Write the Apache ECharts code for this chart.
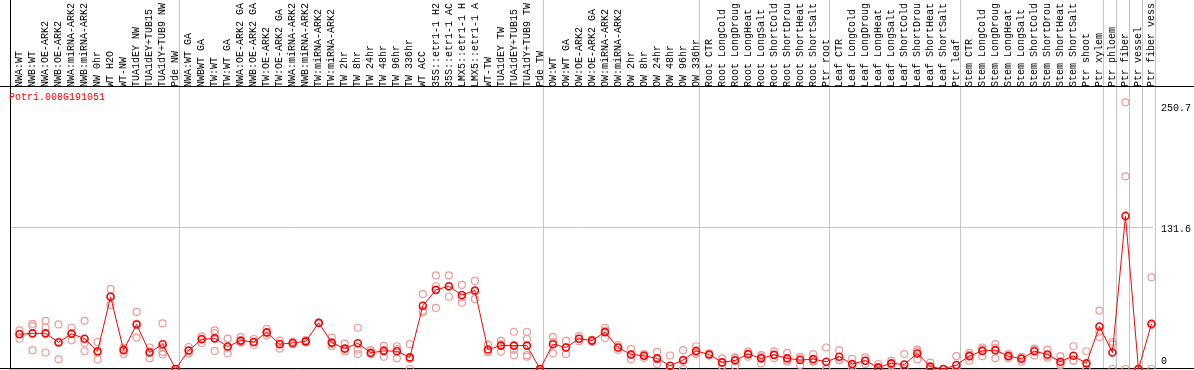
<!DOCTYPE html>
<html>
<head>
<meta charset="utf-8">
<script src="https://cdn.jsdelivr.net/npm/echarts@6/dist/echarts.min.js"></script>
<style>
html, body { margin: 0; padding: 0; background: #fff; }
#chart { width: 1194px; height: 370px; }
</style>
</head>
<body>
<div id="chart"></div>
<script>
// sample names (columns)
var samples = [
  'NWA:WT', 'NWB:WT', 'NWA:OE-ARK2', 'NWB:OE-ARK2', 'NWA:miRNA-ARK2', 'NWB:miRNA-ARK2', 'NW 0hr', 'WT H2O', 'WT-NW',
  'TUA1dEY NW', 'TUA1dEY+TUB15 NW', 'TUA1dY+TUB9 NW', 'Pde NW',
  'NWA:WT GA', 'NWBWT GA', 'TW:WT', 'TW:WT GA', 'NWA:OE-ARK2 GA', 'NWB:OE-ARK2 GA', 'TW:OE-ARK2', 'TW:OE-ARK2 GA',
  'NWA:miRNA-ARK2', 'NWB:miRNA-ARK2', 'TW:miRNA-ARK2', 'TW:miRNA-ARK2', 'TW 2hr', 'TW 8hr', 'TW 24hr', 'TW 48hr',
  'TW 96hr', 'TW 336hr', 'WT ACC', '35S::etr1-1 H2O', '35S::etr1-1 ACC', 'LMX5::etr1-1 H2O', 'LMX5::etr1-1 ACC',
  'WT-TW', 'TUA1dEY TW', 'TUA1dEY+TUB15 TW', 'TUA1dY+TUB9 TW', 'Pde TW',
  'OW:WT', 'OW:WT GA', 'OW:OE-ARK2', 'OW:OE-ARK2 GA', 'OW:miRNA-ARK2', 'OW:miRNA-ARK2', 'OW 2hr', 'OW 8hr',
  'OW 24hr', 'OW 48hr', 'OW 96hr', 'OW 336hr',
  'Root CTR', 'Root LongCold', 'Root LongDrought', 'Root LongHeat', 'Root LongSalt', 'Root ShortCold',
  'Root ShortDrought', 'Root ShortHeat', 'Root ShortSalt', 'Ptr root',
  'Leaf CTR', 'Leaf LongCold', 'Leaf LongDrought', 'Leaf LongHeat', 'Leaf LongSalt', 'Leaf ShortCold',
  'Leaf ShortDrought', 'Leaf ShortHeat', 'Leaf ShortSalt', 'Ptr leaf',
  'Stem CTR', 'Stem LongCold', 'Stem LongDrought', 'Stem LongHeat', 'Stem LongSalt', 'Stem ShortCold',
  'Stem ShortDrought', 'Stem ShortHeat', 'Stem ShortSalt', 'Ptr shoot', 'Ptr xylem',
  'Ptr phloem', 'Ptr fiber', 'Ptr vessel', 'Ptr fiber vessel'
];
// where a new group of samples starts
var groupStarts = [13, 41, 53, 63, 73, 84, 85, 86, 87, 88];

// mean expression
var means = [
  32.6, 33.5, 33.5, 25.1, 33.2, 28.5, 16.7, 67.9, 17.7, 41.9, 15.5, 23.3, 0,
  17.4, 27.9, 28.8, 21.1, 26.7, 25.4, 34.4, 23.3, 24.5, 26, 43.4, 24.8, 19.2, 24.2, 15.2, 17, 16.7, 10.9,
  59.5, 74.4, 77.8, 69.5, 73.8, 18.3, 22, 22, 22, 0,
  23.3, 20.2, 28.5, 26.7, 34.7, 20.2, 13.7, 12.4, 10, 3.1, 8.4, 17,
  13.7, 6.2, 8.1, 14, 10, 13.3, 10, 8.4, 9.3, 6.8,
  11.5, 4.7, 7.8, 1.5, 5.3, 4.3, 14.6, 2.2, 0, 3.7,
  12.1, 17, 17.7, 12.1, 9.6, 16.7, 13.7, 6.8, 12.4, 5.3, 40,
  15.5, 143.9, 0, 42.5
];
// replicates
var rep1 = [
  36.3, 42.5, 45.3, 41.9, 38.8, 45.3, 25.4, 75, 20.2, 53.7, 20.2, 42.8, 0,
  20.7, 30.7, 36.3, 28.5, 30, 28.2, 37.8, 26.7, 25.8, 27.2, 43.4, 29.5, 23.9, 38.8, 17.7, 21.7, 21.4, 23.3,
  70.4, 88, 88, 79, 82.8, 23, 26.4, 35, 35, 0,
  30, 26.4, 31, 27.5, 38.8, 22.5, 18.6, 14, 16.1, 12.7, 17.7, 21.4,
  14.7, 10, 11, 16.5, 13, 16.5, 15.2, 10, 14, 20.2,
  17.7, 9.6, 11, 4.7, 7.8, 14, 18.3, 5.9, 0, 12.1,
  15.2, 20.2, 23.3, 14, 11.5, 19.2, 18.3, 12.1, 21.4, 16.7, 54.9,
  25.4, 250.7, 0, 86.2
];
var rep2 = [
  28.5, 40.3, 39, 9, 27, 24.5, 9, 60.2, 14, 29.5, 10, 16.1, 0,
  14.5, 24.5, 33.8, 14.6, 25.4, 22.8, 31.4, 19.2, 23.3, 25, 43.4, 21.4, 17, 18.3, 13.9, 11.5, 10, 0,
  53.3, 57.4, 67.9, 62.3, 65.7, 16.1, 16.1, 13, 28.2, 0,
  14.6, 14, 26, 25.5, 29.1, 18, 9, 10.5, 4.7, 0, 0, 14,
  12.8, 2.8, 2.8, 11.5, 5.3, 10, 6.8, 3.7, 6.8, 0,
  8.4, 0.6, 4.7, 0, 3.4, 0, 9, 0, 0, 0,
  7.8, 12.1, 10, 10, 6.8, 12.8, 10.6, 4.7, 7.8, 0, 30,
  23.2, 181.1, 0, 41.3
];
var rep3 = [
  33, 17.7, 15.5, 24.5, 33.8, 16.7, 15.7, 68.5, 18.9, 42.5, 16.3, 13.7, 0,
  17, 28.5, 17, 20.2, 24.7, 25.2, 34, 24, 24.4, 25.8, 43.4, 23.5, 16.7, 14, 14, 17.8, 18.7, 9.4,
  54.8, 77.8, 77.5, 67.2, 72.9, 15.8, 23.5, 18, 13, 0,
  25.3, 20.2, 28.5, 27, 36.2, 20.1, 13.5, 12.7, 9.2, 0, 7.5, 15.6,
  13.6, 5.8, 10.5, 14, 11.7, 13.4, 8, 11.5, 7.1, 0.2,
  8.4, 3.9, 7.7, 0, 4.7, 0, 16.5, 0.7, 0, 0,
  13.3, 18.7, 19.8, 12.3, 10.5, 18.1, 12.2, 3.6, 8, 0, 35.1,
  0, 0, 0, 0
];
var rep4 = [];
for (var k = 0; k < samples.length; k++) rep4.push(null);
rep4[11] = 20.5;
rep4[39] = 11.5;

var yMax = 263.2;
var yLabels = [0, 131.6, 250.7];

var replicatePoints = [];
[rep1, rep2, rep3, rep4].forEach(function (rep) {
  rep.forEach(function (v, i) {
    if (v != null) replicatePoints.push([i, v]);
  });
});

var mono = 'Liberation Mono';
var myChart = echarts.init(document.getElementById('chart'));
var option = {
  animation: false,
  backgroundColor: '#fff',
  title: {
    text: 'Potri.008G191051',
    left: 9,
    top: 92,
    padding: 0,
    textStyle: { color: '#ff0000', fontFamily: mono, fontSize: 10, fontWeight: 'normal' }
  },
  grid: [
    { left: 10, width: 1145, top: 0, bottom: 1 },   // group separators + left border
    { left: 10, width: 1145, top: 86, bottom: 1 },  // value axis
    { left: 13, width: 1145, top: 86, bottom: 1 },  // data
    { left: 0, right: 0, top: 86, bottom: 2 }       // full-width frame lines
  ],
  xAxis: [
    {
      gridIndex: 0, type: 'category', data: samples, boundaryGap: true,
      axisLine: { show: false }, axisTick: { show: false }, axisLabel: { show: false },
      splitLine: {
        show: true,
        interval: function (index) { return groupStarts.indexOf(index) >= 0; },
        lineStyle: { color: '#c4c4c4', width: 1 }
      }
    },
    {
      gridIndex: 1, type: 'category', data: samples,
      axisLine: { show: false }, axisTick: { show: false }, axisLabel: { show: false }, splitLine: { show: false }
    },
    {
      gridIndex: 2, type: 'category', data: samples, position: 'top', boundaryGap: true,
      axisLine: { show: false }, axisTick: { show: false }, splitLine: { show: false },
      axisLabel: {
        interval: 0, rotate: 90, margin: 2,
        color: '#000', fontFamily: mono, fontSize: 10,
        width: 86, overflow: 'truncate', ellipsis: ''
      }
    },
    {
      gridIndex: 3, type: 'value', min: 0, max: 1, position: 'top',
      axisLine: { show: true, onZero: false, lineStyle: { color: '#000', width: 1 } },
      axisTick: { show: false }, axisLabel: { show: false }, splitLine: { show: false }
    },
    {
      gridIndex: 3, type: 'value', min: 0, max: 1, position: 'bottom',
      axisLine: { show: true, onZero: false, lineStyle: { color: '#000', width: 1 } },
      axisTick: { show: false }, axisLabel: { show: false }, splitLine: { show: false }
    }
  ],
  yAxis: [
    {
      gridIndex: 0, type: 'value', position: 'left',
      axisLine: { show: true, lineStyle: { color: '#000', width: 1 } },
      axisTick: { show: false }, axisLabel: { show: false }, splitLine: { show: false }
    },
    {
      gridIndex: 1, type: 'value', min: 0, max: yMax, interval: yMax / 2, position: 'right',
      axisLine: { show: false }, axisTick: { show: false },
      splitLine: { show: true, lineStyle: { color: '#c4c4c4', width: 1 } },
      axisLabel: {
        customValues: yLabels,
        margin: 8,
        color: '#000', fontFamily: mono, fontSize: 10,
        formatter: function (v) {
          if (v === 0) return '{c|0}';
          if (v > 200) return '{a|' + v + '}';
          return '{b|' + v + '}';
        },
        rich: {
          a: { fontFamily: mono, fontSize: 10, color: '#000', padding: [17, 0, 0, 0] },
          b: { fontFamily: mono, fontSize: 10, color: '#000', padding: [3, 0, 0, 0] },
          c: { fontFamily: mono, fontSize: 10, color: '#000', padding: [0, 0, 15, 0] }
        }
      }
    },
    {
      gridIndex: 2, type: 'value', min: 0, max: yMax, show: false
    },
    {
      gridIndex: 3, type: 'value', min: 0, max: 1, show: false
    }
  ],
  series: [
    {
      name: 'replicates',
      type: 'scatter',
      xAxisIndex: 2, yAxisIndex: 2,
      data: replicatePoints,
      symbol: 'circle',
      symbolSize: 7,
      itemStyle: { color: 'rgba(255,255,255,0)', borderColor: '#ee9a9a', borderWidth: 1.2, opacity: 1 },
      z: 2
    },
    {
      name: 'mean',
      type: 'line',
      xAxisIndex: 2, yAxisIndex: 2,
      data: means,
      symbol: 'circle',
      symbolSize: 7,
      showAllSymbol: true,
      lineStyle: { color: '#ff0000', width: 1 },
      itemStyle: { color: 'rgba(255,255,255,0)', borderColor: '#ff0000', borderWidth: 1.6, opacity: 1 },
      z: 3
    }
  ]
};
myChart.setOption(option);
window.addEventListener('resize', function () {
  myChart.resize();
}, false);
</script>
</body>
</html>
